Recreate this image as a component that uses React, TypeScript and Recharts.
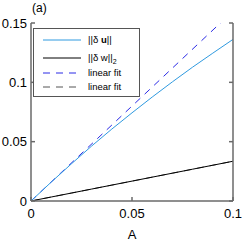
import React from "react";
import { LineChart, Line, XAxis, YAxis, Label } from "recharts";

const A = [0, 0.01, 0.02, 0.03, 0.04, 0.05, 0.06, 0.07, 0.08, 0.09, 0.1];
const normU = [0, 0.0159, 0.0313, 0.0463, 0.0606, 0.0743, 0.0876, 0.1004, 0.1128, 0.1246, 0.1362];
const normW = [0, 0.00335, 0.0067, 0.01005, 0.0134, 0.01675, 0.0201, 0.02345, 0.0268, 0.03015, 0.0335];
const fitA = [0, 0.1];
const fitU = [0, 0.16];
const fitW = [0, 0.0335];
const xTicks = [0, 0.05, 0.1];
const yTicks = [0, 0.05, 0.1, 0.15];

const data = A.map((a, i) => ({ A: a, u: normU[i], w: normW[i] }));
const fitUData = fitA.map((a, i) => ({ A: a, fu: fitU[i] }));
const fitWData = fitA.map((a, i) => ({ A: a, fw: fitW[i] }));

const AX = "#6a6a6a";
const FONT = "'Liberation Sans', Arial, sans-serif";

const fmt = (v: number) => String(v);

const LegendBox = () => {
  const rows: { color: string; dash?: string; label: React.ReactNode; y: number }[] = [
    { color: "#2f9ae0", label: <>||δ <b>u</b>||</>, y: 11 },
    { color: "#000000", label: <>||δ w||<sub style={{ fontSize: 7, lineHeight: 0 }}>2</sub></>, y: 29 },
    { color: "#2a2ae6", dash: "7 6", label: <>linear fit</>, y: 44 },
    { color: "#555555", dash: "7 6", label: <>linear fit</>, y: 58 },
  ];
  return (
    <div
      style={{
        position: "absolute",
        left: 33,
        top: 28,
        width: 107,
        height: 69,
        background: "#fff",
        border: "1.5px solid #555",
        boxSizing: "border-box",
        fontFamily: FONT,
        fontSize: 9.5,
        color: "#000",
      }}
    >
      <svg width={104} height={66} style={{ position: "absolute", left: 0, top: 0 }}>
        {rows.map((r, i) => (
          <line
            key={i}
            x1={9}
            x2={47}
            y1={r.y}
            y2={r.y}
            stroke={r.color}
            strokeWidth={1}
            strokeDasharray={r.dash}
          />
        ))}
      </svg>
      {rows.map((r, i) => (
        <div
          key={i}
          style={{
            position: "absolute",
            left: 54,
            top: r.y - 6,
            lineHeight: "11px",
            whiteSpace: "nowrap",
          }}
        >
          {r.label}
        </div>
      ))}
    </div>
  );
};

export default function App() {
  return (
    <div style={{ position: "absolute", left: 0, top: 0, width: 249, height: 243, background: "#fff" }}>
      <LineChart
        width={249}
        height={243}
        margin={{ top: 23, right: 0, bottom: 0, left: 0 }}
        style={{ fontFamily: FONT }}
      >
        <XAxis
          xAxisId="b"
          dataKey="A"
          type="number"
          domain={[0, 0.1]}
          ticks={xTicks}
          tickFormatter={fmt}
          allowDataOverflow
          height={42}
          stroke={AX}
          strokeWidth={1.5}
          tickSize={-4}
          tickMargin={12}
          tick={{ fill: "#000", fontSize: 13 }}
        >
          <Label value="A" position="insideBottom" offset={4} style={{ fill: "#000", fontSize: 13 }} />
        </XAxis>
        <XAxis
          xAxisId="t"
          orientation="top"
          dataKey="A"
          type="number"
          domain={[0, 0.1]}
          ticks={xTicks}
          height={0}
          stroke={AX}
          strokeWidth={1.5}
          tickSize={-4}
          tickFormatter={() => ""}
        />
        <YAxis
          yAxisId="l"
          type="number"
          domain={[0, 0.15]}
          ticks={yTicks}
          tickFormatter={fmt}
          allowDataOverflow
          width={31}
          stroke={AX}
          strokeWidth={1.5}
          tickSize={-4}
          tickMargin={8}
          tick={{ fill: "#000", fontSize: 13 }}
        />
        <YAxis
          yAxisId="r"
          orientation="right"
          type="number"
          domain={[0, 0.15]}
          ticks={yTicks}
          allowDataOverflow
          width={16}
          stroke={AX}
          strokeWidth={1.5}
          tickSize={-4}
          tickFormatter={() => ""}
        />
        <Line
          xAxisId="b"
          yAxisId="l"
          data={fitWData}
          dataKey="fw"
          stroke="#555555"
          strokeWidth={1}
          strokeDasharray="7 6"
          dot={false}
          isAnimationActive={false}
        />
        <Line
          xAxisId="b"
          yAxisId="l"
          data={data}
          dataKey="w"
          stroke="#000000"
          strokeWidth={1}
          dot={false}
          isAnimationActive={false}
        />
        <Line
          xAxisId="b"
          yAxisId="l"
          data={fitUData}
          dataKey="fu"
          stroke="#2a2ae6"
          strokeWidth={1}
          strokeDasharray="7 6"
          dot={false}
          isAnimationActive={false}
        />
        <Line
          xAxisId="b"
          yAxisId="l"
          data={data}
          dataKey="u"
          stroke="#2f9ae0"
          strokeWidth={1}
          dot={false}
          isAnimationActive={false}
        />
      </LineChart>
      <div
        style={{
          position: "absolute",
          left: 32,
          top: 1,
          fontFamily: FONT,
          fontSize: 12,
          color: "#000",
        }}
      >
        (a)
      </div>
      <LegendBox />
    </div>
  );
}
